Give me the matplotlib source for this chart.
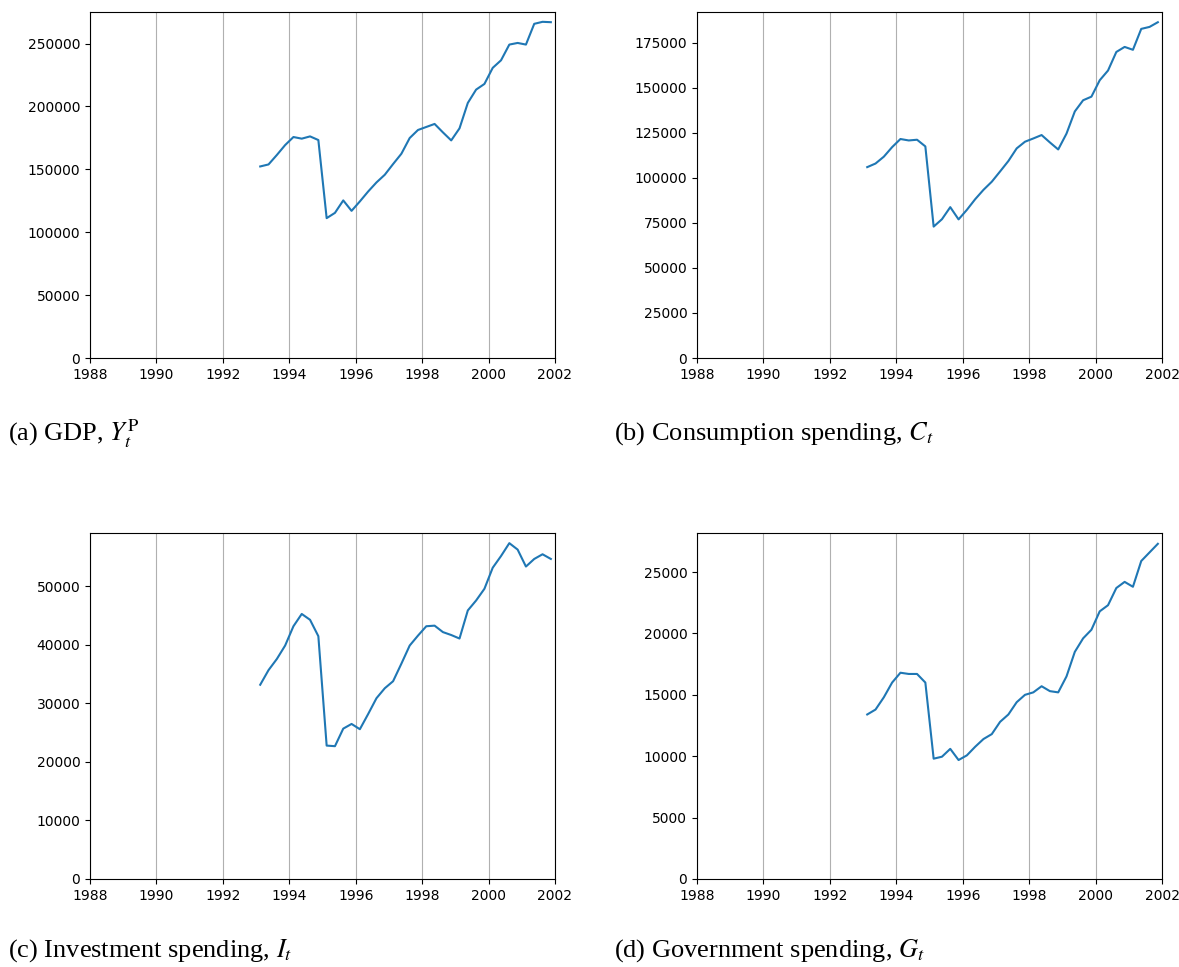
import matplotlib.pyplot as plt
import numpy as np

# quarterly series 1993Q1 - 2001Q4, plotted at mid-quarter
t = 1993.125 + 0.25 * np.arange(36)

gdp = [152300, 153900, 161400, 169300, 175700, 174400, 176200, 173300,
       111200, 115400, 125300, 117000, 124500, 132400, 139600, 145700,
       154200, 162400, 174900, 181300, 183700, 186100, 179400, 173000,
       182600, 202800, 213400, 217900, 230700, 236700, 249200, 250500,
       249200, 265700, 267300, 267000]
cons = [105900, 107900, 111700, 117000, 121500, 120700, 121100, 117400,
        72900, 77000, 83700, 76900, 82200, 88100, 93300, 97800,
        103500, 109300, 116300, 120000, 121800, 123700, 119600, 115700,
        124500, 136800, 143000, 145000, 154100, 159500, 169800, 172600,
        171000, 182600, 183700, 186300]
inv = [33200, 35700, 37600, 39900, 43200, 45300, 44300, 41500,
       22800, 22700, 25700, 26500, 25600, 28200, 30900, 32600,
       33800, 36800, 39900, 41600, 43200, 43300, 42200, 41700,
       41100, 45900, 47600, 49600, 53200, 55200, 57400, 56300,
       53400, 54700, 55500, 54700]
gov = [13400, 13800, 14800, 16000, 16800, 16700, 16700, 16000,
       9800, 9960, 10600, 9690, 10070, 10770, 11400, 11800,
       12800, 13400, 14400, 15000, 15200, 15700, 15300, 15200,
       16500, 18500, 19600, 20300, 21800, 22300, 23700, 24200,
       23800, 25900, 26600, 27300]

captions = [r"(a) GDP, $Y_t^{\mathrm{P}}$",
            r"(b) Consumption spending, $C_t$",
            r"(c) Investment spending, $I_t$",
            r"(d) Government spending, $G_t$"]

plt.rcParams['mathtext.fontset'] = 'stix'

fig = plt.figure(figsize=(11.79, 9.67), dpi=100)
W, H = 1179, 967
lefts = [90, 697, 90, 697]
tops = [12, 12, 533, 533]
cap_pos = [(8, 434), (614, 434), (8, 951), (614, 951)]

for i, series in enumerate([gdp, cons, inv, gov]):
    ax = fig.add_axes([lefts[i] / W, 1 - (tops[i] + 346) / H, 465 / W, 346 / H])
    ax.plot(t, series, color='C0')
    ax.set_xlim(1988, 2002)
    ax.set_xticks(np.arange(1988, 2003, 2))
    ax.set_ylim(bottom=0)
    ax.grid(True, axis='x')
    cx, cy = cap_pos[i]
    fig.text(cx / W, 1 - cy / H, captions[i], family='Liberation Serif',
             fontsize=19, va='center', ha='left')

fig.savefig("out.png")
